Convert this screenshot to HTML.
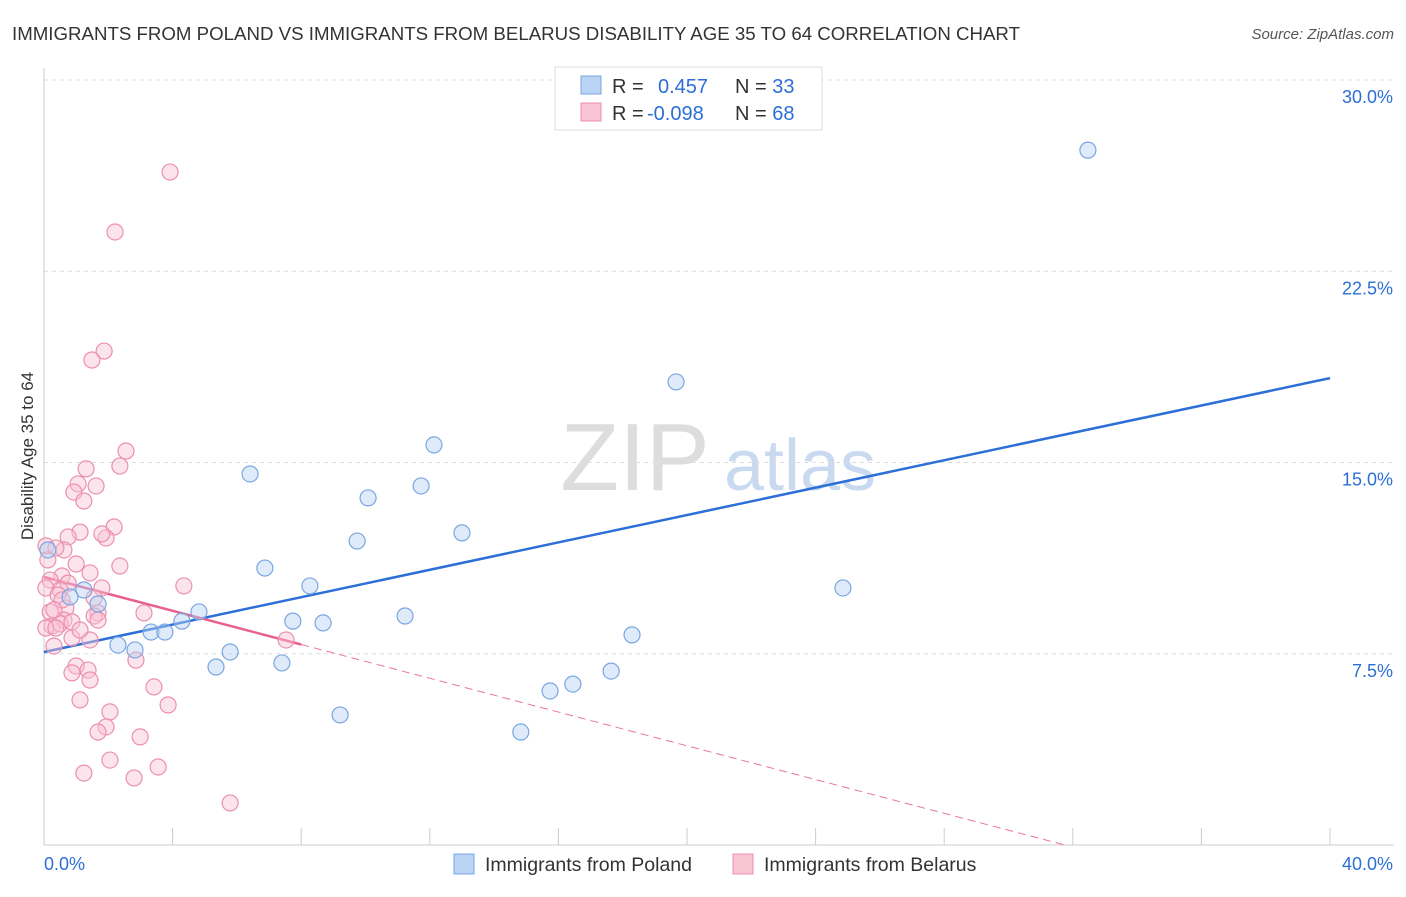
<!DOCTYPE html>
<html><head><meta charset="utf-8"><style>
body{margin:0;background:#fff;font-family:"Liberation Sans",sans-serif;}
svg text{font-family:"Liberation Sans",sans-serif;}
</style></head><body>
<svg width="1406" height="892" id="chart">
<text x="12" y="40" font-size="18" fill="#333" textLength="1008" lengthAdjust="spacingAndGlyphs">IMMIGRANTS FROM POLAND VS IMMIGRANTS FROM BELARUS DISABILITY AGE 35 TO 64 CORRELATION CHART</text>
<text x="1394" y="39" font-size="15" fill="#555" font-style="italic" text-anchor="end">Source: ZipAtlas.com</text>
<text x="33" y="456" font-size="17" fill="#333" text-anchor="middle" transform="rotate(-90 33 456)">Disability Age 35 to 64</text>
<g>
<text x="635" y="490" font-size="96" fill="#ddd" font-family="Liberation Serif" text-anchor="middle">ZIP</text>
<text x="800" y="490" font-size="72" fill="#c9daf0" text-anchor="middle">atlas</text>
</g>
<g id="grid"></g><g id="lines"></g><g id="pts"></g>
<g>
<rect x="555" y="67" width="267" height="63" fill="#fff" stroke="#ddd"/>
<rect x="581" y="76" width="20" height="18" fill="#b9d3f5" stroke="#7aa6e0"/>
<rect x="581" y="103" width="20" height="18" fill="#f9c4d4" stroke="#ec8fae"/>
<text x="612" y="93" font-size="20" fill="#333">R = <tspan fill="#2c6fd6" x="658">0.457</tspan><tspan x="735" fill="#333">N = </tspan><tspan fill="#2c6fd6">33</tspan></text>
<text x="612" y="120" font-size="20" fill="#333">R = <tspan fill="#2c6fd6" x="647">-0.098</tspan><tspan x="735" fill="#333">N = </tspan><tspan fill="#2c6fd6">68</tspan></text>
</g>
<g>
<rect x="454" y="854" width="20" height="20" fill="#b9d3f5" stroke="#7aa6e0"/>
<text x="485" y="871" font-size="19.5" fill="#333">Immigrants from Poland</text>
<rect x="733" y="854" width="20" height="20" fill="#f9c4d4" stroke="#ec8fae"/>
<text x="764" y="871" font-size="19.5" fill="#333">Immigrants from Belarus</text>
</g>
</svg>
<script>
const polandX=[32.47,19.66,12.13,6.41,11.73,10.08,13.0,9.74,0.12,6.87,8.27,24.85,1.24,1.68,4.82,4.29,7.74,8.68,11.23,3.33,3.76,18.29,2.30,2.83,5.79,5.35,7.40,17.64,16.45,15.74,9.21,14.83,0.81];
const polandY=[27.25,18.16,15.69,14.55,14.08,13.61,12.24,11.92,11.57,10.86,10.16,10.08,10.0,9.45,9.14,8.78,8.78,8.71,8.98,8.35,8.35,8.24,7.84,7.65,7.57,6.98,7.14,6.82,6.31,6.04,5.10,4.43,9.73];
const belarusX=[3.92,2.21,1.87,1.49,2.55,1.31,2.36,1.06,1.62,0.93,1.24,2.18,1.12,0.75,1.93,1.80,0.06,0.62,0.37,2.36,1.00,1.43,0.56,0.19,0.75,4.35,0.06,1.80,0.50,0.44,1.56,0.68,3.11,1.68,1.56,0.19,0.62,0.25,0.50,0.87,0.06,0.37,1.68,1.43,0.87,7.53,0.31,2.86,1.00,1.37,0.87,1.43,3.42,1.12,3.86,2.05,1.93,1.68,2.99,2.05,3.55,1.24,2.80,5.79,0.12,0.56,1.12,0.31];
const belarusY=[26.39,24.04,19.37,19.02,15.45,14.75,14.86,14.16,14.08,13.84,13.49,12.47,12.27,12.08,12.04,12.2,11.73,11.57,11.65,10.94,11.02,10.67,10.55,10.39,10.27,10.16,10.08,10.08,10.0,9.80,9.69,9.29,9.10,9.10,8.98,9.14,8.82,8.59,8.67,8.75,8.51,8.51,8.82,8.04,8.12,8.04,7.80,7.25,7.02,6.86,6.75,6.47,6.20,5.69,5.49,5.22,4.63,4.43,4.24,3.33,3.06,2.82,2.63,1.65,11.18,9.61,8.43,9.22];
const yTicks=[7.5,15.0,22.5,30.0];
const yTickLabels=["7.5%","15.0%","22.5%","30.0%"];
const xTicks=[0,4,8,12,16,20,24,28,32,36,40];
const polandTrend=[7.57,18.31];
const belarusTrend=[10.51,-0.331];
const ns="http://www.w3.org/2000/svg";
const X=v=>44+v*32.15, Y=v=>845-v*25.5;
function mk(t,a,p){const e=document.createElementNS(ns,t);for(const k in a)e.setAttribute(k,a[k]);p.appendChild(e);return e;}
const g=document.getElementById('grid'),L=document.getElementById('lines'),P=document.getElementById('pts');
yTicks.forEach((v,i)=>{
 const l=mk('line',{x1:44,x2:1394,y1:Y(v),y2:Y(v),stroke:'#ddd','stroke-dasharray':'4,4'},g);
 
 
 const t=mk('text',{x:1393,y:Y(v)+23,'font-size':18,fill:'#2c6fd6','text-anchor':'end'},g);t.textContent=yTickLabels[i];
 
 
});
const ax=mk('line',{x1:44,x2:1394,y1:845,y2:845,stroke:'#ccc'},g);


const ay=mk('line',{x1:44,x2:44,y1:68,y2:845,stroke:'#ccc'},g);


xTicks.forEach(v=>{const l=mk('line',{x1:X(v),x2:X(v),y1:828,y2:845,stroke:'#ccc'},g);
 
 });
[["0.0%",44,'start'],["40.0%",1393,'end']].forEach(a=>{const t=mk('text',{x:a[1],y:870,'font-size':18,fill:'#2c6fd6','text-anchor':a[2]},g);t.textContent=a[0];
 
 });
const bl=mk('line',{x1:X(0),y1:Y(polandTrend[0]),x2:X(40),y2:Y(polandTrend[1]),stroke:'#2c6fd6','stroke-width':2.5},L);


const xe=-belarusTrend[0]/belarusTrend[1], xs=8;
const pd=mk('line',{x1:X(xs),y1:Y(belarusTrend[0]+belarusTrend[1]*xs),x2:X(xe),y2:Y(0),stroke:'#e8759a','stroke-width':1,'stroke-dasharray':'8,5'},L);


const pl=mk('line',{x1:X(0),y1:Y(belarusTrend[0]),x2:X(xs),y2:Y(belarusTrend[0]+belarusTrend[1]*xs),stroke:'#e8608e','stroke-width':2.5},L);


belarusX.forEach((v,i)=>{const c=mk('circle',{cx:X(v),cy:Y(belarusY[i]),r:8,fill:'rgba(249,196,212,0.45)',stroke:'#ec8fae','stroke-width':1.2},P);
 
 });
polandX.forEach((v,i)=>{const c=mk('circle',{cx:X(v),cy:Y(polandY[i]),r:8,fill:'rgba(185,211,245,0.45)',stroke:'#7aa6e0','stroke-width':1.2},P);
 
 });
</script>
</body></html>
